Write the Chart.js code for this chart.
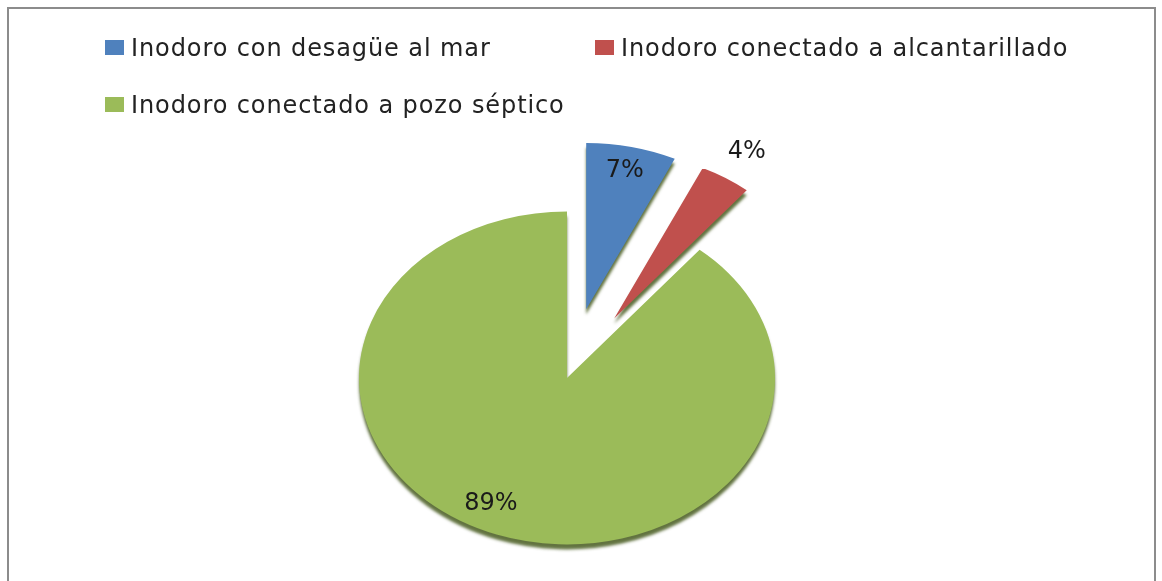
<!DOCTYPE html>
<html>
<head>
<meta charset="utf-8">
<script src="https://cdn.jsdelivr.net/npm/chart.js@4.4.1/dist/chart.umd.min.js"></script>
<style>
    body { margin: 0; background: #fff; }
    #wrap { position: relative; width: 1162px; height: 581px; overflow: hidden; }
    #frame { position: absolute; left: 7px; top: 7px; width: 1149px; height: 600px; border: 2px solid #8c8c8c; box-sizing: border-box; }
    #myChart { position: absolute; left: 0; top: 0; }
    .leg { position: absolute; font-family: "DejaVu Sans", sans-serif; font-size: 24px; color: #222; white-space: nowrap; line-height: 24px; letter-spacing: 0.9px; }
    .leg span { display: inline-block; width: 19px; height: 15px; margin-right: 7px; vertical-align: 1px; }
</style>
</head>
<body>
<div id="wrap">
    <div id="frame"></div>
    <canvas id="myChart" width="1162" height="581"></canvas>
    <div id="legend"></div>
</div>
<script>
const categories = [
    'Inodoro con desagüe al mar',
    'Inodoro conectado a alcantarillado',
    'Inodoro conectado a pozo séptico'
];
const percentages = [7, 4, 89];
const colors = ['#4f81bd', '#c0504d', '#9bbb59'];

// pie is squashed vertically to look like the tilted original
const tilt = 0.8;
const centerY = 378;
const explode = [88, 88, 0];
const labelDist = [0.85, 1.19, 0.84];
const labelTurn = [0, 0, 6];
const legendSpots = [[105, 36], [595, 36], [105, 93]];

document.getElementById('legend').innerHTML = categories.map((c, i) =>
    `<div class="leg" style="left:${legendSpots[i][0]}px;top:${legendSpots[i][1]}px">` +
    `<span style="background:${colors[i]}"></span>${c}</div>`
).join('');

const tiltPlugin = {
    id: 'tilt',
    beforeDatasetsDraw(chart) {
        const ctx = chart.ctx;
        const arcs = chart.getDatasetMeta(0).data;
        ctx.save();
        ctx.translate(0, centerY);
        ctx.scale(1, tilt);
        ctx.translate(0, -centerY);
        ctx.shadowColor = 'rgba(70, 90, 30, 0.85)';
        ctx.shadowOffsetY = 5;
        ctx.shadowBlur = 3;
        arcs.forEach((arc, i) => {
            const mid = (arc.startAngle + arc.endAngle) / 2;
            ctx.save();
            ctx.translate(Math.cos(mid) * explode[i], Math.sin(mid) * explode[i]);
            arc.draw(ctx);
            ctx.restore();
        });
        ctx.restore();

        ctx.save();
        ctx.font = '24px "DejaVu Sans"';
        ctx.fillStyle = '#1a1a1a';
        ctx.textAlign = 'center';
        ctx.textBaseline = 'middle';
        arcs.forEach((arc, i) => {
            const mid = (arc.startAngle + arc.endAngle) / 2;
            const ang = mid + labelTurn[i] * Math.PI / 180;
            const r = arc.outerRadius * labelDist[i];
            const x = arc.x + Math.cos(mid) * explode[i] + Math.cos(ang) * r;
            const y0 = arc.y + Math.sin(mid) * explode[i] + Math.sin(ang) * r;
            ctx.fillText(percentages[i] + '%', x, centerY + (y0 - centerY) * tilt);
        });
        ctx.restore();
        return false;
    }
};

const ctx = document.getElementById('myChart').getContext('2d');
new Chart(ctx, {
    type: 'pie',
    data: {
        labels: categories,
        datasets: [{
            data: percentages,
            backgroundColor: colors,
            borderWidth: 0,
            clip: false
        }]
    },
    options: {
        responsive: false,
        animation: false,
        radius: 208,
        layout: { padding: { left: 0, right: 28, top: 175, bottom: 0 } },
        plugins: {
            legend: { display: false },
            tooltip: { enabled: false }
        }
    },
    plugins: [tiltPlugin]
});
</script>
</body>
</html>
